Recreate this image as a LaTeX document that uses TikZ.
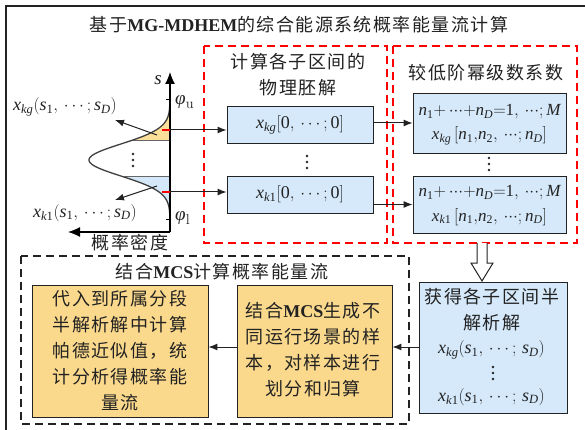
\documentclass[tikz,border=0pt]{standalone}
\usepackage{mathspec}
\usetikzlibrary{arrows.meta}
\setmainfont{Liberation Serif}
\setmathsfont(Digits,Latin,Greek){Liberation Serif}
\newfontfamily\cjk[LetterSpace=8]{Noto Sans CJK SC}
\newcommand\cjkf{\cjk\fontsize{18}{26}\selectfont}
\newcommand\mathf{\fontsize{18}{23}\selectfont}
\newcommand\mathsm{\fontsize{17}{23}\selectfont}
% tight centred dots
\newcommand\tdots{{\cdotp\mkern-3mu\cdotp\mkern-3mu\cdotp}}
\definecolor{boxblue}{HTML}{D5E9FA}
\definecolor{boxyellow}{HTML}{FAD98C}
\definecolor{bandyellow}{HTML}{FBE09A}
\definecolor{bandblue}{HTML}{D5E8FA}
\definecolor{ink}{HTML}{222222}
\tikzset{
  bluebox/.style={draw=ink, fill=boxblue, line width=0.9pt, inner sep=0pt},
  yelbox/.style={draw=ink, fill=boxyellow, line width=0.9pt, inner sep=0pt},
  arr/.style={-{Latex[length=9pt,width=7pt]}, line width=1pt, draw=ink},
  axisarr/.style={-{Latex[length=12pt,width=10pt]}, line width=1.2pt, draw=black},
  reddash/.style={draw=red, line width=1.1pt, dash pattern=on 8pt off 5pt},
  blackdash/.style={draw=ink, line width=1.1pt, dash pattern=on 8pt off 5pt},
  ctext/.style={font=\cjkf, text=ink, inner sep=0pt, align=center},
  mtext/.style={font=\mathf, text=ink, inner sep=0pt},
  stext/.style={font=\mathsm, text=ink, inner sep=0pt},
  vdot/.style={fill=ink, draw=none},
}
% three stacked dots centred at (#1,#2)
\newcommand\vdotsat[2]{%
  \fill[vdot] (#1,#2-6) circle (1.3pt);
  \fill[vdot] (#1,#2) circle (1.3pt);
  \fill[vdot] (#1,#2+6) circle (1.3pt);}
\begin{document}
\begin{tikzpicture}[x=1pt,y=-1pt]
\useasboundingbox (0,0) rectangle (585,430);
\fill[white] (0,0) rectangle (585,430);
% outer frame
\draw[line width=1.2pt, draw=ink] (6,6) rectangle (592,440);
\node[ctext] (title) at (299,25) {基于{\rmfamily\bfseries MG-MDHEM}的综合能源系统概率能量流计算};

% dashed groups
\draw[reddash] (204,46) rectangle (387,243);
\draw[reddash] (393,46) rectangle (577,243);
\draw[blackdash] (21,256) rectangle (409,424);

% ---------- probability density sketch ----------
\coordinate (O) at (170,232);
\coordinate (stop) at (170,72);
\coordinate (pleft) at (68,232);
\fill[bandyellow] plot[domain=100:141, samples=40] ({170-81*exp(-((\x-160)^2)/512)}, \x) -- (170,141) -- (170,100) -- cycle;
\fill[bandblue] plot[domain=177:221, samples=40] ({170-81*exp(-((\x-160)^2)/512)}, \x) -- (170,221) -- (170,177) -- cycle;
\draw[black!60, line width=1pt] ({170-81*exp(-361/512)},141) -- (170,141);
\draw[black!60, line width=1pt] ({170-81*exp(-289/512)},177) -- (170,177);
\draw[black!75, line width=1.3pt] plot[domain=99:221, samples=100] ({170-81*exp(-((\x-160)^2)/512)}, \x);
\draw[axisarr] (O) -- (stop);
\draw[axisarr] (O) -- (pleft);
\draw[line width=1pt] (166,100) -- (170,100);
\draw[line width=1pt] (166,219) -- (170,219);
\node[mtext, font=\fontsize{19}{20}\selectfont] (slab) at (158,80) {$s$};
\node[mtext, anchor=west, font=\fontsize{19}{20}\selectfont] (phiu) at (175,102) {$\phi_{\mathrm{u}}$};
\node[mtext, anchor=west, font=\fontsize{19}{20}\selectfont] (phil) at (175,218) {$\phi_{\mathrm{l}}$};
\node[ctext] (pdf) at (130,243) {概率密度};
\vdotsat{133}{160}

\coordinate (tu) at (170,130);
\coordinate (tl) at (170,192);
\draw[red, line width=1.2pt] (162,130) -- (tu);
\draw[red, line width=1.2pt] (162,192) -- (tl);

\coordinate (au) at (157,135);
\coordinate (al) at (157,186);
\node[mtext] (lkg) at (65,107) {$x_{kg}(s_1,\,\cdots;s_D)$};
\node[mtext] (lk1) at (85,213) {$x_{k1}(s_1,\,\cdots;s_D)$};
\coordinate (lkgend) at (115,120);
\coordinate (lk1end) at (115,200);
\draw[arr] (au) -- (lkgend);
\draw[arr] (al) -- (lk1end);

% ---------- physical germ solutions ----------
\node[ctext] (t1) at (298,74.5) {计算各子区间的\\物理胚解};
\node[bluebox, minimum width=146pt, minimum height=37pt] (p1) at (300,124.5) {};
\node[mtext] at (p1) {$x_{kg}[0,\,\cdots;0]$};
\node[bluebox, minimum width=146pt, minimum height=37pt] (p2) at (300,194.5) {};
\node[mtext] at (p2) {$x_{k1}[0,\,\cdots;0]$};
\vdotsat{307}{162}
\draw[arr] (tu) -- (tu -| p1.west);
\draw[arr] (tl) -- (tl -| p2.west);

% ---------- low-order power series coefficients ----------
\node[ctext] (t2) at (486,73) {较低阶幂级数系数};
\node[bluebox, minimum width=153pt, minimum height=60pt] (c1) at (489.5,123) {};
\node[stext] (c1a) at (489.5,112) {$n_1{+}\,\tdots{+}n_D{=}1,\,\tdots;M$};
\node[stext] (c1b) at (489.5,136) {$x_{kg}\,[n_1{,}n_2,\,\tdots;n_D]$};
\node[bluebox, minimum width=153pt, minimum height=57pt] (c2) at (489.5,204.5) {};
\node[stext] (c2a) at (489.5,193) {$n_1{+}\,\tdots{+}n_D{=}1,\,\tdots;M$};
\node[stext] (c2b) at (489.5,217) {$x_{k1}\,[n_1{,}n_2,\,\tdots;n_D]$};
\vdotsat{489}{164}
\draw[arr] (p1.east |- c1.west) -- (c1.west);
\draw[arr] (p2.east |- c2.west) -- (c2.west);

% hollow arrow down
\draw[draw=ink, line width=1pt, fill=white] (477,243) -- (477,263) -- (471,263) -- (482,281) -- (493,263) -- (487,263) -- (487,243);

% ---------- semi-analytical solutions ----------
\node[bluebox, minimum width=148pt, minimum height=131pt] (res) at (493,347.5) {};
\node[ctext] (r1) at (492,310) {获得各子区间半\\解析解};
\node[mtext] (r2) at (491.5,350) {$x_{kg}(s_1,\,\cdots;\,s_D)$};
\vdotsat{493}{373}
\node[mtext] (r4) at (491.5,397) {$x_{k1}(s_1,\,\cdots;\,s_D)$};

% ---------- MCS part ----------
\node[ctext] (t3) at (222,272) {结合{\rmfamily\bfseries MCS}计算概率能量流};
\node[yelbox, minimum width=155pt, minimum height=132pt] (mcs) at (314.5,351) {};
\node[ctext] at (313,350) {结合{\rmfamily\bfseries MCS}生成不\\同运行场景的样\\本，对样本进行\\划分和归算};
\node[yelbox, minimum width=176pt, minimum height=132pt] (pade) at (120,351) {};
\node[ctext] at (120,350.5) {代入到所属分段\\半解析解中计算\\帕德近似值，统\\计分析得概率能\\量流};
\coordinate (ml) at (res.west |- 0,347);
\draw[arr] (ml) -- (ml -| mcs.east);
\draw[arr] (ml -| mcs.west) -- (ml -| pade.east);
\end{tikzpicture}
\end{document}
